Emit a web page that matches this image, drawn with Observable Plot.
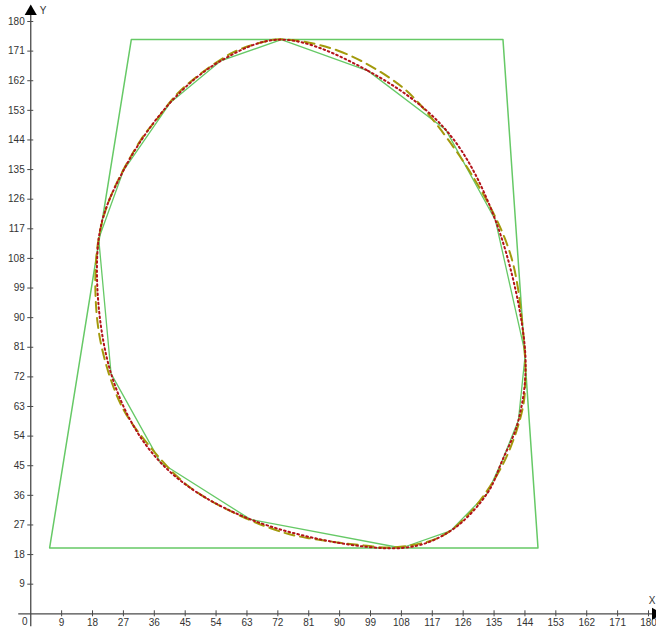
<!DOCTYPE html>
<html>
<head>
<meta charset="utf-8">
<script src="https://cdn.jsdelivr.net/npm/d3@7"></script>
<script src="https://cdn.jsdelivr.net/npm/@observablehq/plot@0.6"></script>
<style>
  html, body { margin: 0; padding: 0; background: #fff; }
</style>
</head>
<body>
<div id="chart"></div>
<script>
// Tick labels
const xTicks = [9, 18, 27, 36, 45, 54, 63, 72, 81, 90, 99, 108, 117, 126, 135, 144, 153, 162, 171, 180];
const yTicks = [9, 18, 27, 36, 45, 54, 63, 72, 81, 90, 99, 108, 117, 126, 135, 144, 153, 162, 171, 180];
const originLabel = ["0"];
const axisNames = ["X", "Y"];

// Outer trapezoid (green)
const outerX = [5.5, 29.3, 137.6, 147.8];
const outerY = [20, 174.5, 174.5, 20];

// Inner polygon (green) – also the control points of the red dotted curve
const polyX = [73, 98.3, 121, 135.4, 144.1, 142.1, 137.4, 133, 122.3, 108, 64, 37.8, 23.4, 19.8, 27, 40.7, 55.3];
const polyY = [174.5, 165, 147, 119.6, 79, 58.8, 46.6, 36.6, 25.2, 20, 28.7, 46, 73, 114, 134.7, 155.4, 168];

// Olive dashed curve
const oliveX = [73, 89.4, 104.8, 112.9, 129, 139.7, 143.5, 144.1, 143.2, 137.7, 127.8, 119, 105.7, 96.9, 81.5, 73.6, 59, 45.7, 34.9, 26.7, 20.9, 18.9, 19.7, 23.2, 32, 36.9, 43.6, 58.2, 66];
const oliveY = [174.6, 171.2, 162.7, 155.4, 132.6, 109.5, 85.2, 70.9, 61.8, 45.7, 30.5, 23.2, 20.2, 20.8, 22.9, 24.7, 30.8, 39, 50.6, 62.7, 80, 96.1, 113.5, 126.6, 143.9, 150.5, 159, 170.2, 173.3];

const zipXY = (xs, ys) => xs.map((x, i) => ({x, y: ys[i]}));
const outer = zipXY(outerX, outerY);
const poly = zipXY(polyX, polyY);
const olive = zipXY(oliveX, oliveY);

const axisColor = "#4a4a4a";
const green = "#66c966";

const chart = Plot.plot({
  width: 656,
  height: 631,
  marginLeft: 30.25,
  marginRight: 8,
  marginTop: 21,
  marginBottom: 17.7,
  x: {domain: [0, 180]},
  y: {domain: [0, 180]},
  style: {fontFamily: "'Liberation Sans', Arial, sans-serif", fontSize: "10px", color: "#333", background: "#fff"},
  marks: [
    // axis lines
    Plot.ruleY([0], {stroke: axisColor, strokeWidth: 1.3, insetLeft: -12, insetRight: -6}),
    Plot.ruleX([0], {stroke: axisColor, strokeWidth: 1.3, insetTop: -10, insetBottom: -13}),
    // tick marks crossing the axes
    Plot.ruleX(xTicks, {x: d => d, y1: 0, y2: 0, insetTop: -3, insetBottom: -3, stroke: axisColor}),
    Plot.ruleY(yTicks, {y: d => d, x1: 0, x2: 0, insetLeft: -3, insetRight: -3, stroke: axisColor}),
    Plot.axisX({ticks: xTicks, tickSize: 0, tickPadding: 5, fill: "#333", label: null}),
    Plot.axisY({ticks: yTicks, tickSize: 0, tickPadding: 6, fill: "#333", label: null}),
    Plot.text(originLabel, {x: () => 0, y: () => 0, text: d => d, dx: -6, dy: 8, fill: "#333"}),
    // arrows and axis names
    Plot.dot([0], {x: () => 0, y: () => 180, symbol: "triangle", r: 4.5, fill: "#000", stroke: "none", dy: -10}),
    Plot.dot([0], {x: () => 180, y: () => 0, symbol: "triangle", r: 4.5, fill: "#000", stroke: "none", rotate: 90, dx: 7}),
    Plot.text([axisNames[1]], {x: () => 0, y: () => 180, text: d => d, dx: 9, dy: -11, textAnchor: "start", fill: "#333"}),
    Plot.text([axisNames[0]], {x: () => 180, y: () => 0, text: d => d, dx: 7, dy: -13, textAnchor: "end", fill: "#333"}),
    // shapes
    Plot.line(outer, {x: "x", y: "y", curve: "linear-closed", stroke: green, strokeWidth: 1.5}),
    Plot.line(poly, {x: "x", y: "y", curve: "linear-closed", stroke: green, strokeWidth: 1.3}),
    Plot.line(olive, {x: "x", y: "y", curve: "catmull-rom-closed", stroke: "#a39a0c", strokeWidth: 2, strokeDasharray: "10,6"}),
    Plot.line(poly, {x: "x", y: "y", curve: "catmull-rom-closed", stroke: "#b3121a", strokeWidth: 2, strokeDasharray: "1.6,3"})
  ]
});
document.getElementById("chart").appendChild(chart);
</script>
</body>
</html>
